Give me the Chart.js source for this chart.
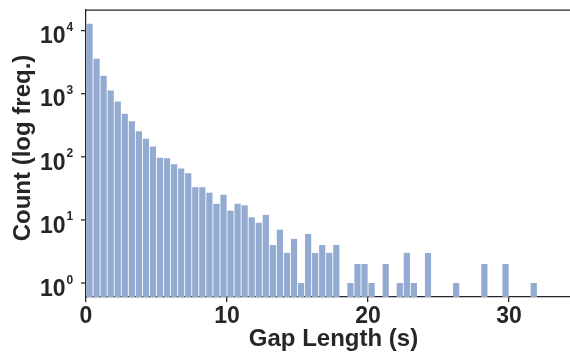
<!DOCTYPE html>
<html>
<head>
<meta charset="utf-8">
<script src="https://cdn.jsdelivr.net/npm/chart.js@4.4.1/dist/chart.umd.min.js"></script>
<style>
  html, body { margin: 0; padding: 0; background: #fff; overflow: hidden; }
  #wrap { width: 590px; height: 354px; }
</style>
</head>
<body>
<div id="wrap"><canvas id="gap-hist" width="590" height="354"></canvas></div>
<script>
// histogram of gap lengths, 0.5 s bins starting at 0
let binWidth = 0.5;
let gapCounts = [
  12800, 3580, 1930, 1120, 750, 480, 367, 255, 194, 145,
  97, 95, 76, 65, 55, 33, 33, 27, 18, 25,
  14, 18, 17, 11, 9, 12, 4, 7, 3, 5,
  1, 6, 3, 4, 3, 4, 0, 1, 2, 2,
  1, 0, 2, 0, 1, 3, 1, 0, 3, 0,
  0, 0, 1, 0, 0, 0, 2, 0, 0, 2,
  0, 0, 0, 1,
];
let xTickValues = [0, 10, 20, 30];
let yTickValues = [1, 10, 100, 1000, 10000];

const ink = "#262626";
const font = '"Liberation Sans", Arial, sans-serif';

const points = gapCounts.map((c, i) => ({
  x: i * binWidth + binWidth / 2,
  y: c > 0 ? c : null,
}));

// log tick labels as 10 with a raised exponent, plus y title and top/right spines
const logAxisText = {
  id: "logAxisText",
  afterDraw(chart) {
    const { ctx, chartArea, scales } = chart;
    const y = scales.y;
    ctx.save();
    ctx.fillStyle = ink;
    ctx.strokeStyle = ink;
    ctx.lineWidth = 1.25;
    y.ticks.forEach((t) => {
      const py = y.getPixelForValue(t.value);
      const exp = Math.round(Math.log10(t.value));
      ctx.beginPath();
      ctx.moveTo(chartArea.left - 5, py);
      ctx.lineTo(chartArea.left, py);
      ctx.stroke();
      ctx.font = "bold 23px " + font;
      ctx.textAlign = "right";
      ctx.textBaseline = "alphabetic";
      ctx.fillText("10", 65.5, py + 12.8);
      ctx.font = "bold 12px " + font;
      ctx.textAlign = "left";
      ctx.fillText(String(exp), 66.5, py + 0.5);
    });

    ctx.beginPath();
    ctx.moveTo(chartArea.left, chartArea.top);
    ctx.lineTo(chartArea.right, chartArea.top);
    ctx.lineTo(chartArea.right, chartArea.bottom);
    ctx.stroke();

    ctx.translate(29.5, 148);
    ctx.rotate(-Math.PI / 2);
    ctx.font = "bold 24px " + font;
    ctx.textAlign = "center";
    ctx.textBaseline = "alphabetic";
    ctx.fillText("Count (log freq.)", 0, 0);
    ctx.restore();
  },
};

new Chart(document.getElementById("gap-hist"), {
  type: "bar",
  data: {
    datasets: [
      {
        data: points,
        backgroundColor: "rgb(147, 170, 209)",
        borderWidth: 0,
        barPercentage: 0.88,
        categoryPercentage: 1,
      },
    ],
  },
  plugins: [logAxisText],
  options: {
    responsive: false,
    animation: false,
    layout: {
      padding: { top: 10, right: 9, left: 0, bottom: 0 },
    },
    plugins: {
      legend: { display: false },
      tooltip: { enabled: false },
    },
    scales: {
      x: {
        type: "linear",
        min: 0,
        max: 35.1,
        offset: false,
        afterBuildTicks: (scale) => {
          scale.ticks = xTickValues.map((v) => ({ value: v }));
        },
        afterFit: (scale) => {
          scale.height = 57;
        },
        grid: {
          display: true,
          offset: false,
          drawOnChartArea: false,
          drawTicks: true,
          tickLength: 5,
          color: ink,
          lineWidth: 1.25,
        },
        border: { display: true, color: ink, width: 1.25 },
        ticks: {
          color: ink,
          padding: 1,
          maxRotation: 0,
          font: { family: font, size: 23, weight: "bold" },
        },
        title: {
          display: true,
          text: "Gap Length (s)",
          color: ink,
          padding: { top: 0, bottom: 0 },
          font: { family: font, size: 24, weight: "bold", lineHeight: 1.2 },
        },
      },
      y: {
        type: "logarithmic",
        min: 0.63,
        max: 21200,
        afterBuildTicks: (scale) => {
          scale.ticks = yTickValues.map((v) => ({ value: v }));
        },
        afterFit: (scale) => {
          scale.width = 86;
        },
        grid: { display: false },
        border: { display: true, color: ink, width: 1.25 },
        ticks: { display: false },
      },
    },
  },
});
</script>
</body>
</html>
